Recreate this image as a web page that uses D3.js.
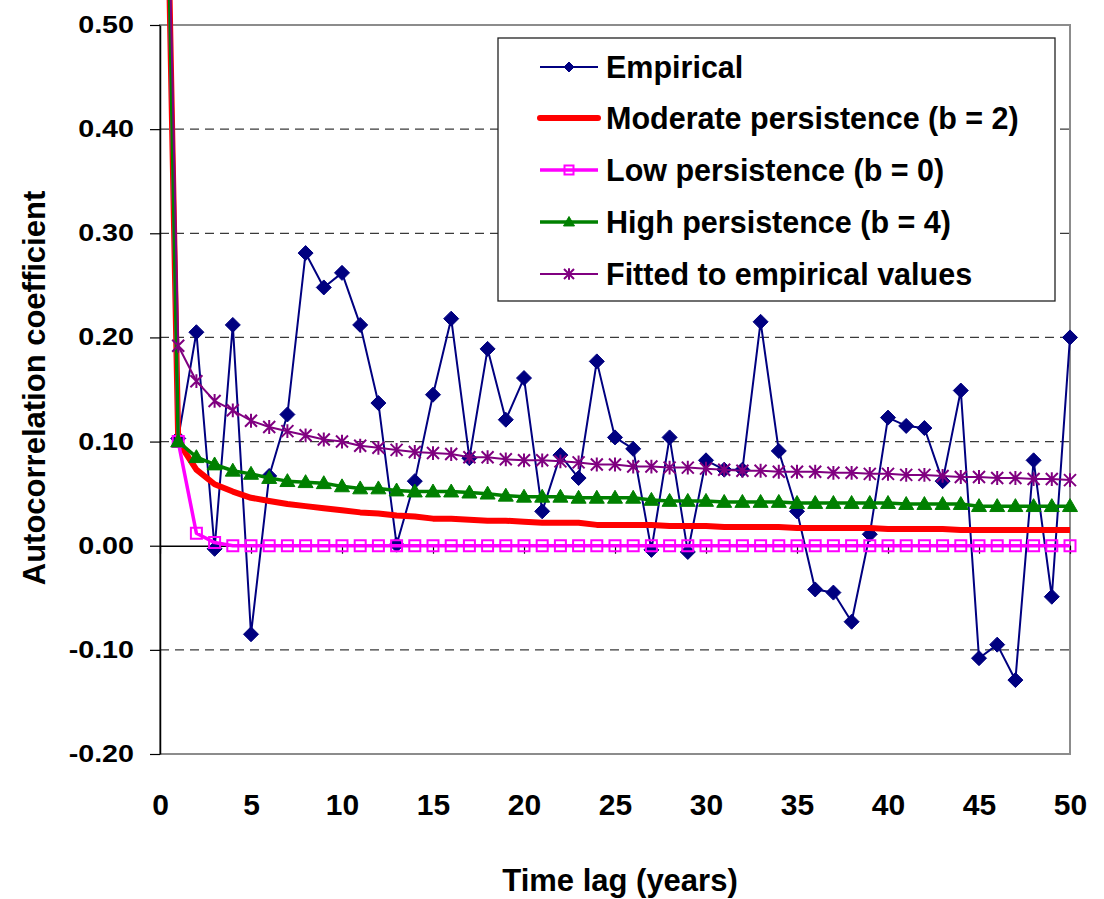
<!DOCTYPE html>
<html>
<head>
<meta charset="utf-8">
<script src="https://cdn.jsdelivr.net/npm/d3@7"></script>
<style>
  body { margin: 0; background: #fff; }
  svg { display: block; }
  text { font-family: "Liberation Sans", Arial, sans-serif; font-weight: bold; fill: #000; }
</style>
</head>
<body>
<svg id="chart" width="1104" height="899"></svg>
<script>
// values per time lag, index = lag (0..50)
var empirical = [1.0, 0.103, 0.205, -0.003, 0.212, -0.085, 0.067, 0.126, 0.281, 0.248, 0.262, 0.212, 0.137, 0.001,
  0.062, 0.145, 0.218, 0.084, 0.189, 0.121, 0.161, 0.033, 0.087, 0.065, 0.177, 0.104, 0.093, -0.004, 0.104, -0.006,
  0.082, 0.073, 0.073, 0.215, 0.091, 0.033, -0.042, -0.045, -0.073, 0.011, 0.123, 0.115, 0.113, 0.062, 0.149,
  -0.108, -0.095, -0.129, 0.082, -0.049, 0.200];
var moderate = [1.0, 0.100, 0.073, 0.059, 0.052, 0.046, 0.043, 0.040, 0.038, 0.036, 0.034, 0.032, 0.031, 0.029,
  0.028, 0.026, 0.026, 0.025, 0.024, 0.024, 0.023, 0.022, 0.022, 0.022, 0.020, 0.020, 0.020, 0.020, 0.019, 0.019,
  0.019, 0.018, 0.018, 0.018, 0.018, 0.017, 0.017, 0.017, 0.017, 0.017, 0.016, 0.016, 0.016, 0.016, 0.015,
  0.015, 0.015, 0.015, 0.015, 0.015, 0.015];
var low = [1.0, 0.100, 0.012, 0.003, 0, 0, 0, 0, 0, 0, 0, 0, 0, 0, 0, 0, 0, 0, 0, 0, 0, 0, 0, 0, 0, 0, 0, 0, 0, 0,
  0, 0, 0, 0, 0, 0, 0, 0, 0, 0, 0, 0, 0, 0, 0, 0, 0, 0, 0, 0, 0];
var high = [1.0, 0.100, 0.085, 0.078, 0.072, 0.069, 0.065, 0.062, 0.061, 0.060, 0.057, 0.055, 0.055, 0.053,
  0.052, 0.052, 0.052, 0.051, 0.050, 0.048, 0.047, 0.047, 0.047, 0.046, 0.046, 0.046, 0.046, 0.044, 0.043, 0.043,
  0.043, 0.042, 0.042, 0.042, 0.042, 0.041, 0.041, 0.041, 0.041, 0.041, 0.041, 0.040, 0.040, 0.040, 0.040,
  0.038, 0.038, 0.038, 0.038, 0.038, 0.038];
var fitted = [1.0, 0.192, 0.158, 0.139, 0.130, 0.120, 0.114, 0.110, 0.106, 0.102, 0.100, 0.096, 0.094, 0.092,
  0.090, 0.089, 0.088, 0.085, 0.085, 0.083, 0.082, 0.082, 0.081, 0.080, 0.078, 0.078, 0.076, 0.076, 0.075, 0.075,
  0.074, 0.073, 0.072, 0.072, 0.071, 0.071, 0.071, 0.070, 0.070, 0.069, 0.069, 0.068, 0.068, 0.067, 0.066,
  0.066, 0.065, 0.065, 0.064, 0.064, 0.063];

var seriesNames = ["Empirical", "Moderate persistence (b = 2)", "Low persistence (b = 0)",
  "High persistence (b = 4)", "Fitted to empirical values"];
var xTicks = [0, 5, 10, 15, 20, 25, 30, 35, 40, 45, 50];
var yTicks = [-0.2, -0.1, 0, 0.1, 0.2, 0.3, 0.4, 0.5];

var series = [
  {name: seriesNames[0], values: empirical, color: "#000080", width: 2, marker: "diamond"},
  {name: seriesNames[1], values: moderate, color: "#ff0000", width: 6, marker: null},
  {name: seriesNames[2], values: low, color: "#ff00ff", width: 3.5, marker: "square"},
  {name: seriesNames[3], values: high, color: "#008000", width: 3.5, marker: "triangle"},
  {name: seriesNames[4], values: fitted, color: "#800080", width: 2, marker: "star"}
];

var svg = d3.select("#chart");
var plotLeft = 160, plotRight = 1070, plotTop = 25, plotBottom = 754;

var x = d3.scaleLinear().domain([0, 50]).range([plotLeft, plotRight]);
var y = d3.scaleLinear().domain([-0.2, 0.5]).range([plotBottom, plotTop]);

// plot area border
svg.append("rect")
  .attr("x", plotLeft).attr("y", plotTop)
  .attr("width", plotRight - plotLeft).attr("height", plotBottom - plotTop)
  .attr("fill", "none").attr("stroke", "#8c8c8c").attr("stroke-width", 2);

// dashed gridlines
svg.selectAll(".grid")
  .data(yTicks.filter(function(d) { return d !== 0 && d !== 0.5 && d !== -0.2; }))
  .enter().append("line")
  .attr("class", "grid")
  .attr("x1", plotLeft).attr("x2", plotRight)
  .attr("y1", function(d) { return y(d); })
  .attr("y2", function(d) { return y(d); })
  .attr("stroke", "#3a3a3a").attr("stroke-width", 1.2)
  .attr("stroke-dasharray", "9,6");

// x axis crossing at 0, labels at the bottom
var xAxis = svg.append("g")
  .attr("transform", "translate(0," + y(0) + ")")
  .call(d3.axisBottom(x).tickValues(xTicks).tickSize(8).tickSizeOuter(0).tickFormat(d3.format("d")));
xAxis.select(".domain").attr("stroke", "#000").attr("stroke-width", 1.5);
xAxis.selectAll(".tick line").attr("stroke", "#000").attr("stroke-width", 1.2);
xAxis.selectAll(".tick text")
  .attr("font-size", 30)
  .attr("y", 815 - y(0))
  .attr("dy", null);

// y axis (labels are a little wide in the original, so stretch them)
var yFmt = function(d) { return (d < 0 ? "-" : "") + Math.abs(d).toFixed(2); };
var yAxis = svg.append("g")
  .attr("transform", "translate(" + plotLeft + ",0)")
  .call(d3.axisLeft(y).tickValues(yTicks).tickSize(10).tickSizeOuter(0).tickPadding(16).tickFormat(yFmt));
yAxis.select(".domain").attr("stroke", "#000").attr("stroke-width", 1.5);
yAxis.selectAll(".tick line").attr("stroke", "#000").attr("stroke-width", 1.2);
yAxis.selectAll(".tick text")
  .attr("font-size", 23.5)
  .each(function() {
    var w = this.getComputedTextLength();
    d3.select(this).attr("textLength", w * 1.22).attr("lengthAdjust", "spacingAndGlyphs");
  });

// axis titles
svg.append("text")
  .attr("x", 620).attr("y", 891)
  .attr("text-anchor", "middle")
  .attr("font-size", 31)
  .text("Time lag (years)");

svg.append("text")
  .attr("transform", "translate(45,388) rotate(-90)")
  .attr("text-anchor", "middle")
  .attr("font-size", 31)
  .text("Autocorrelation coefficient");

// markers
function markerPath(type, s) {
  if (type === "diamond") return "M0," + (-s) + "L" + s + ",0L0," + s + "L" + (-s) + ",0Z";
  if (type === "square") return "M" + (-s) + "," + (-s) + "h" + (2 * s) + "v" + (2 * s) + "h" + (-2 * s) + "Z";
  if (type === "triangle") return "M0," + (-s) + "L" + s + "," + (s * 0.72) + "L" + (-s) + "," + (s * 0.72) + "Z";
  if (type === "star") return "M" + (-s) + "," + (-s) + "L" + s + "," + s + "M" + (-s) + "," + s + "L" + s + "," + (-s) +
    "M0," + (-s * 1.15) + "L0," + (s * 1.15);
  return "";
}
var plotSize = {diamond: 7.5, square: 5.5, triangle: 7.5, star: 6};
var legendSize = {diamond: 5, square: 4.5, triangle: 5.5, star: 5};

function styleMarker(sel, s) {
  if (s.marker === "square" || s.marker === "star") {
    sel.attr("fill", "none").attr("stroke", s.color).attr("stroke-width", 2);
  } else {
    sel.attr("fill", s.color).attr("stroke", s.color).attr("stroke-width", 1);
  }
}

var line = d3.line()
  .x(function(d, i) { return x(i); })
  .y(function(d) { return y(d); });

series.forEach(function(s) {
  var g = svg.append("g");
  g.append("path")
    .datum(s.values)
    .attr("d", line)
    .attr("fill", "none")
    .attr("stroke", s.color)
    .attr("stroke-width", s.width)
    .attr("stroke-linejoin", "round");
  if (s.marker) {
    var m = g.selectAll(".m")
      .data(s.values)
      .enter().append("path")
      .attr("class", "m")
      .attr("transform", function(d, i) { return "translate(" + x(i) + "," + y(d) + ")"; })
      .attr("d", markerPath(s.marker, plotSize[s.marker]));
    styleMarker(m, s);
  }
});

// legend
var legend = svg.append("g");
legend.append("rect")
  .attr("x", 498).attr("y", 38)
  .attr("width", 557).attr("height", 263)
  .attr("fill", "#fff").attr("stroke", "#222").attr("stroke-width", 1.3);

var rowY = [67, 118, 170, 222, 274];
series.forEach(function(s, i) {
  var row = legend.append("g").attr("transform", "translate(0," + rowY[i] + ")");
  row.append("line")
    .attr("x1", 540).attr("x2", 598)
    .attr("stroke", s.color)
    .attr("stroke-width", s.width)
    .attr("stroke-linecap", s.marker ? "butt" : "round");
  if (s.marker) {
    var m = row.append("path")
      .attr("transform", "translate(569,0)")
      .attr("d", markerPath(s.marker, legendSize[s.marker]));
    styleMarker(m, s);
  }
  row.append("text")
    .attr("x", 606).attr("y", 10.5)
    .attr("font-size", 30.5)
    .text(s.name);
});
</script>
</body>
</html>
